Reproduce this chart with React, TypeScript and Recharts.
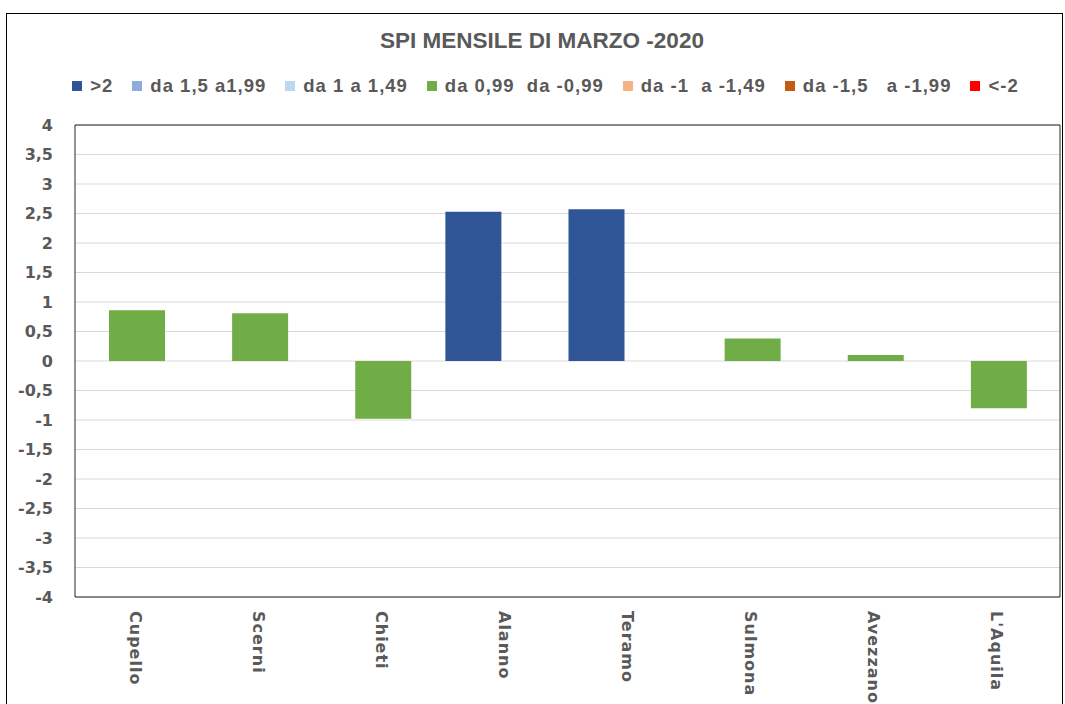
import React from 'react';
import { BarChart, Bar, XAxis, YAxis, CartesianGrid, Legend, ReferenceArea } from 'recharts';

const stations = ['Cupello', 'Scerni', 'Chieti', 'Alanno', 'Teramo', 'Sulmona', 'Avezzano', "L'Aquila"];

// una serie per classe SPI (come nel foglio Excel originale)
const over2 = [null, null, null, 2.53, 2.57, null, null, null];
const from15to199 = [null, null, null, null, null, null, null, null];
const from1to149 = [null, null, null, null, null, null, null, null];
const normal = [0.86, 0.81, -0.98, null, null, 0.38, 0.1, -0.8];
const fromM1toM149 = [null, null, null, null, null, null, null, null];
const fromM15toM199 = [null, null, null, null, null, null, null, null];
const underM2 = [null, null, null, null, null, null, null, null];

const seriesNames = ['>2', 'da 1,5 a1,99', 'da 1 a 1,49', 'da 0,99  da -0,99', 'da -1  a -1,49', 'da -1,5   a -1,99', '<-2'];
const seriesColors = ['#2F5597', '#8FAADC', '#BDD7EE', '#70AD47', '#F4B183', '#C55A11', '#FF0000'];
const yTicks = [-4, -3.5, -3, -2.5, -2, -1.5, -1, -0.5, 0, 0.5, 1, 1.5, 2, 2.5, 3, 3.5, 4];

const seriesValues = [over2, from15to199, from1to149, normal, fromM1toM149, fromM15toM199, underM2];
const seriesKeys = ['s0', 's1', 's2', 's3', 's4', 's5', 's6'];

const data = stations.map((name, i) => {
  const row: Record<string, string | number | null> = { name };
  seriesKeys.forEach((k, j) => {
    row[k] = seriesValues[j][i];
  });
  return row;
});

const grey = '#595959';

const StationTick = (props: any) => {
  const { x, y, payload } = props;
  return (
    <text
      transform={`translate(${x - 7},${y + 6}) rotate(90)`}
      textAnchor="start"
      fill={grey}
      fontFamily="DejaVu Sans"
      fontWeight="bold"
      fontSize={16}
      letterSpacing={1}
    >
      {payload.value}
    </text>
  );
};

const LegendContent = () => (
  <div
    style={{
      display: 'flex',
      justifyContent: 'center',
      alignItems: 'center',
      height: 24,
      paddingLeft: 16,
      fontFamily: 'Liberation Sans',
      fontWeight: 'bold',
      fontSize: 18.5,
      letterSpacing: 1,
      color: grey,
      whiteSpace: 'pre',
    }}
  >
    {seriesNames.map((n, i) => (
      <div key={n} style={{ display: 'flex', alignItems: 'center', marginRight: i < seriesNames.length - 1 ? 19 : 0 }}>
        <span style={{ width: 10, height: 10, background: seriesColors[i], marginRight: 8, display: 'inline-block' }} />
        <span>{n}</span>
      </div>
    ))}
  </div>
);

export default function App() {
  return (
    <div
      style={{
        position: 'absolute',
        left: 6,
        top: 13,
        width: 1057,
        height: 700,
        boxSizing: 'border-box',
        border: '1px solid #000',
        background: '#fff',
      }}
    >
      <div
        style={{
          position: 'absolute',
          top: 15,
          left: 0,
          width: '100%',
          paddingLeft: 15,
          boxSizing: 'border-box',
          textAlign: 'center',
          fontFamily: 'Liberation Sans',
          fontWeight: 'bold',
          fontSize: 22.5,
          lineHeight: '23px',
          color: grey,
        }}
      >
        SPI MENSILE DI MARZO -2020
      </div>
      <BarChart
        width={1055}
        height={690}
        data={data}
        margin={{ top: 87, right: 2, bottom: 0, left: 8 }}
        barSize={56}
        barGap={-45}
      >
        <CartesianGrid vertical={false} stroke="#d9d9d9" />
        <Legend verticalAlign="top" content={<LegendContent />} wrapperStyle={{ top: 60 }} />
        <XAxis
          dataKey="name"
          interval={0}
          axisLine={false}
          tickLine={false}
          tickMargin={2}
          height={107}
          tick={<StationTick />}
        />
        <YAxis
          domain={[-4, 4]}
          ticks={yTicks}
          interval={0}
          width={60}
          axisLine={false}
          tickLine={false}
          tickMargin={16}
          tickFormatter={(v: number) => String(v).replace('.', ',')}
          tick={{ fill: grey, fontFamily: 'DejaVu Sans', fontWeight: 'bold', fontSize: 16 }}
        />
        {seriesKeys.map((k, i) => (
          <Bar key={k} dataKey={k} name={seriesNames[i]} fill={seriesColors[i]} isAnimationActive={false} />
        ))}
        <ReferenceArea y1={-4} y2={4} fill="none" stroke="#262626" strokeWidth={1} />
      </BarChart>
    </div>
  );
}
